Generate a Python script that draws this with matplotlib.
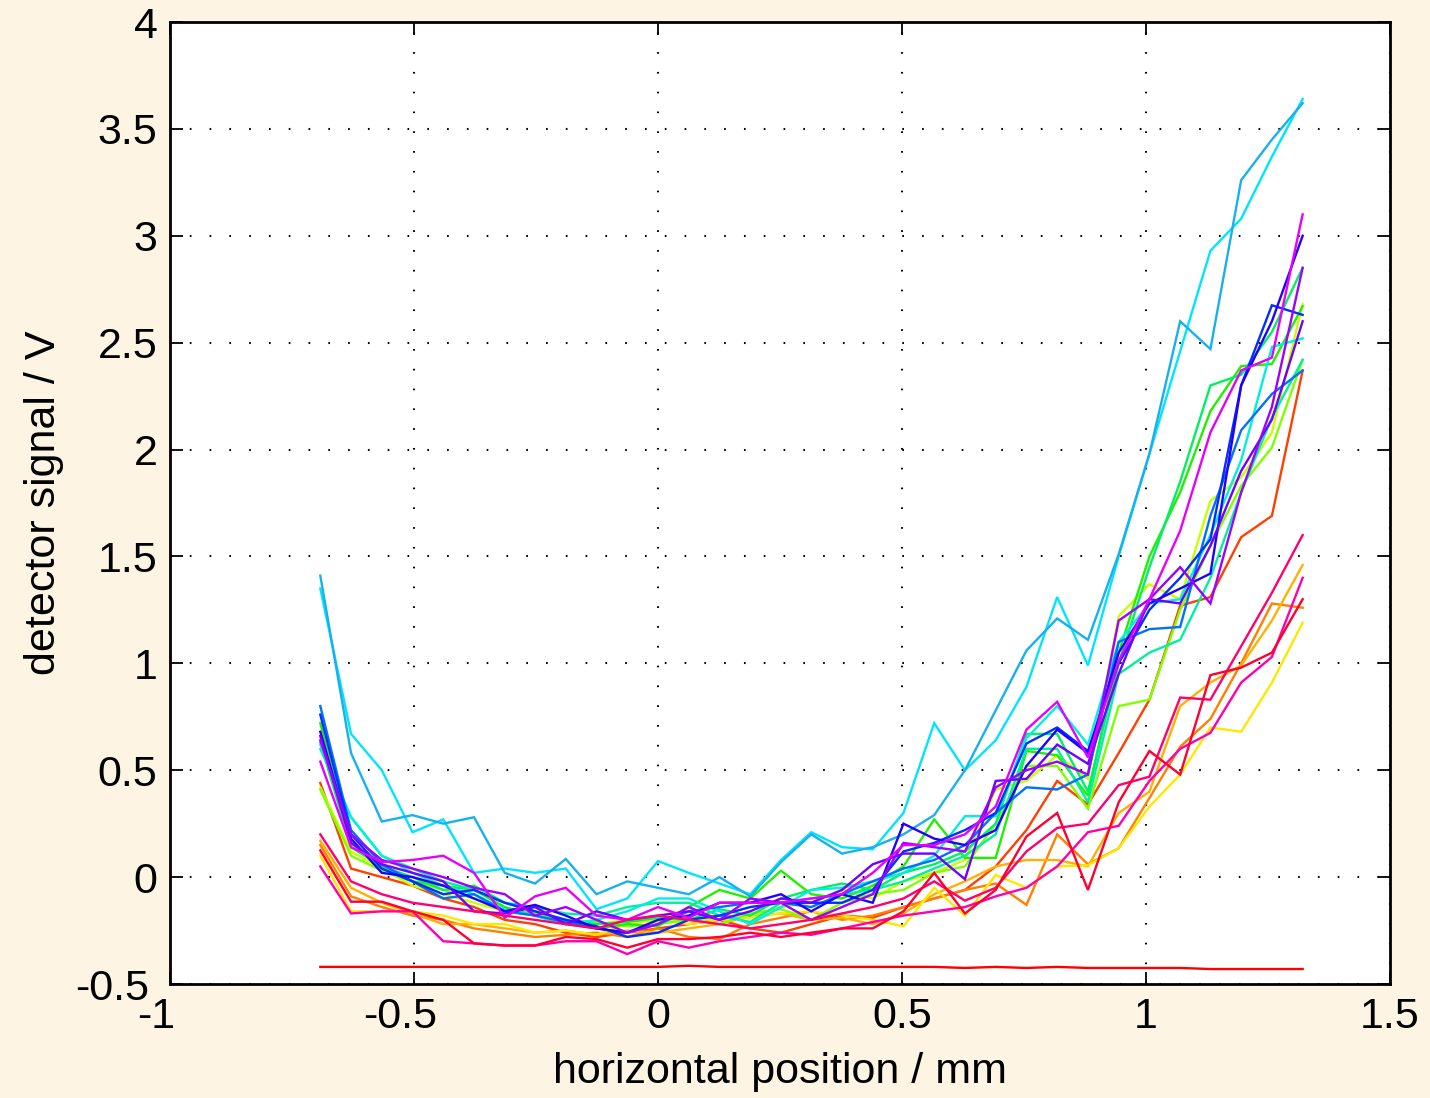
import matplotlib
matplotlib.use("Agg")
import matplotlib.pyplot as plt
import matplotlib.transforms as mtransforms

# ---------------- data ----------------
x_pos = [-0.692, -0.629, -0.566, -0.503, -0.440, -0.377, -0.314, -0.252, -0.189, -0.126, -0.063,
         0.000, 0.063, 0.126, 0.189, 0.252, 0.314, 0.377, 0.440, 0.503, 0.566, 0.629,
         0.692, 0.755, 0.818, 0.881, 0.944, 1.007, 1.070, 1.132, 1.195, 1.258, 1.321]

red_flat = [-0.42, -0.42, -0.42, -0.42, -0.42, -0.42, -0.42, -0.42, -0.42, -0.42, -0.42,
            -0.42, -0.415, -0.42, -0.42, -0.42, -0.42, -0.42, -0.42, -0.42, -0.42, -0.425,
            -0.42, -0.425, -0.42, -0.425, -0.425, -0.425, -0.425, -0.43, -0.43, -0.43, -0.43]
orange_red = [0.44, 0.04, 0.00, -0.04, -0.10, -0.14, -0.20, -0.22, -0.26, -0.28, -0.26,
              -0.24, -0.22, -0.20, -0.24, -0.26, -0.22, -0.18, -0.19, -0.14, -0.10, -0.06,
              0.05, 0.22, 0.45, 0.34, 0.58, 0.83, 1.27, 1.31, 1.59, 1.69, 2.37]
orange = [0.15, -0.09, -0.14, -0.18, -0.20, -0.24, -0.26, -0.28, -0.27, -0.26, -0.28,
          -0.24, -0.28, -0.29, -0.22, -0.19, -0.16, -0.20, -0.18, -0.14, -0.10, -0.06,
          -0.03, -0.13, 0.20, 0.06, 0.135, 0.37, 0.61, 0.74, 1.00, 1.28, 1.26]
orange_yellow = [0.17, -0.05, -0.12, -0.17, -0.22, -0.22, -0.24, -0.26, -0.25, -0.27, -0.25,
                 -0.26, -0.24, -0.22, -0.18, -0.17, -0.20, -0.19, -0.22, -0.17, -0.08, -0.02,
                 0.05, 0.08, 0.08, 0.05, 0.30, 0.40, 0.80, 0.91, 0.99, 1.20, 1.46]
yellow = [0.10, -0.16, -0.16, -0.16, -0.18, -0.22, -0.22, -0.26, -0.25, -0.27, -0.22,
          -0.20, -0.22, -0.20, -0.19, -0.17, -0.16, -0.18, -0.20, -0.23, -0.05, -0.18,
          0.01, -0.05, 0.05, 0.055, 0.135, 0.33, 0.48, 0.70, 0.68, 0.91, 1.19]
yellow_green = [0.42, 0.12, 0.04, -0.04, -0.08, -0.12, -0.16, -0.18, -0.20, -0.22, -0.20,
                -0.21, -0.19, -0.20, -0.18, -0.14, -0.12, -0.06, -0.10, -0.02, 0.02, 0.08,
                0.41, 0.45, 0.57, 0.46, 1.22, 1.37, 1.30, 1.76, 1.87, 2.08, 2.68]
chartreuse = [0.41, 0.10, 0.03, -0.02, -0.06, -0.10, -0.15, -0.17, -0.20, -0.21, -0.23,
              -0.22, -0.20, -0.22, -0.17, -0.15, -0.20, -0.12, -0.08, -0.06, 0.02, 0.05,
              0.25, 0.52, 0.52, 0.32, 0.80, 0.83, 1.25, 1.55, 1.83, 2.01, 2.42]
green = [0.72, 0.16, 0.04, -0.02, -0.04, -0.06, -0.14, -0.18, -0.22, -0.24, -0.22,
         -0.23, -0.14, -0.06, -0.10, 0.03, -0.08, -0.10, -0.04, 0.05, 0.27, 0.09,
         0.09, 0.59, 0.57, 0.38, 1.05, 1.50, 1.80, 2.18, 2.39, 2.40, 2.67]
spring_green = [0.63, 0.14, 0.05, 0.00, -0.06, -0.04, -0.12, -0.16, -0.20, -0.22, -0.21,
                -0.19, -0.20, -0.15, -0.18, -0.10, -0.06, -0.03, -0.06, 0.02, 0.06, 0.12,
                0.25, 0.67, 0.67, 0.40, 1.00, 1.45, 1.85, 2.30, 2.35, 2.55, 2.85]
aquamarine = [0.60, 0.28, 0.10, 0.04, -0.02, -0.06, -0.12, -0.14, -0.17, -0.18, -0.14,
              -0.12, -0.12, -0.18, -0.21, -0.12, -0.10, -0.08, -0.06, -0.02, 0.04, 0.10,
              0.20, 0.60, 0.60, 0.35, 0.95, 1.05, 1.11, 1.40, 1.80, 2.15, 2.42]
turquoise = [0.62, 0.28, 0.10, 0.02, -0.04, -0.08, -0.15, -0.18, -0.22, -0.20, -0.16,
             -0.10, -0.10, -0.16, -0.22, -0.14, -0.06, -0.05, -0.02, 0.02, 0.10, 0.285,
             0.285, 0.65, 0.80, 0.62, 1.10, 1.28, 1.30, 1.60, 1.95, 2.48, 2.52]
light_cyan = [1.35, 0.67, 0.50, 0.21, 0.27, 0.02, 0.04, 0.02, 0.04, -0.15, -0.10,
              0.075, 0.02, -0.03, -0.08, 0.08, 0.21, 0.14, 0.13, 0.30, 0.72, 0.50,
              0.64, 0.89, 1.31, 0.99, 1.50, 1.98, 2.46, 2.93, 3.08, 3.37, 3.64]
sky_blue = [1.41, 0.58, 0.26, 0.29, 0.25, 0.28, 0.02, -0.03, 0.085, -0.08, -0.02,
            -0.05, -0.08, 0.00, -0.09, 0.07, 0.20, 0.11, 0.14, 0.20, 0.29, 0.50,
            0.78, 1.06, 1.21, 1.11, 1.51, 1.98, 2.60, 2.47, 3.26, 3.45, 3.62]
azure = [0.80, 0.22, 0.06, -0.02, -0.10, -0.08, -0.16, -0.18, -0.21, -0.24, -0.26,
         -0.22, -0.16, -0.14, -0.12, -0.12, -0.14, -0.08, -0.02, 0.04, 0.08, 0.15,
         0.30, 0.42, 0.41, 0.48, 1.10, 1.16, 1.17, 1.69, 2.09, 2.26, 2.37]
blue = [0.76, 0.20, 0.04, -0.02, -0.08, -0.06, -0.12, -0.16, -0.20, -0.23, -0.28,
        -0.26, -0.20, -0.18, -0.14, -0.12, -0.12, -0.12, -0.06, 0.12, 0.16, 0.22,
        0.30, 0.625, 0.70, 0.59, 1.00, 1.25, 1.40, 1.58, 2.30, 2.675, 2.63]
blue_violet = [0.68, 0.18, 0.02, 0.00, -0.04, -0.10, -0.16, -0.13, -0.18, -0.24, -0.26,
               -0.20, -0.18, -0.12, -0.12, -0.08, -0.16, -0.08, -0.12, 0.25, 0.18, 0.15,
               0.22, 0.52, 0.69, 0.58, 1.05, 1.28, 1.35, 1.42, 2.30, 2.60, 3.00]
violet = [0.66, 0.16, 0.06, 0.02, -0.02, -0.16, -0.17, -0.14, -0.22, -0.16, -0.20,
          -0.18, -0.16, -0.20, -0.16, -0.10, -0.12, -0.06, 0.06, 0.11, 0.11, -0.01,
          0.45, 0.46, 0.62, 0.53, 0.95, 1.30, 1.28, 1.55, 1.90, 2.14, 2.60]
purple = [0.64, 0.20, 0.08, 0.04, 0.00, -0.05, -0.08, -0.18, -0.14, -0.20, -0.26,
          -0.22, -0.14, -0.20, -0.10, -0.12, -0.20, -0.14, -0.08, 0.16, 0.14, 0.12,
          0.42, 0.50, 0.54, 0.48, 1.20, 1.30, 1.45, 1.28, 1.80, 2.20, 2.85]
magenta = [0.54, 0.14, 0.07, 0.08, 0.10, 0.02, -0.19, -0.09, -0.05, -0.18, -0.20,
           -0.14, -0.19, -0.12, -0.12, -0.12, -0.10, -0.08, 0.02, 0.15, 0.15, 0.20,
           0.33, 0.69, 0.82, 0.56, 1.01, 1.30, 1.62, 2.08, 2.37, 2.43, 3.10]
pink_magenta = [0.05, -0.17, -0.16, -0.16, -0.30, -0.31, -0.32, -0.32, -0.30, -0.30, -0.36,
                -0.30, -0.33, -0.30, -0.28, -0.26, -0.27, -0.24, -0.21, -0.18, -0.16, -0.14,
                -0.09, -0.05, 0.05, 0.21, 0.24, 0.45, 0.60, 0.675, 0.91, 1.03, 1.40]
pink_red = [0.20, -0.02, -0.08, -0.12, -0.14, -0.16, -0.18, -0.20, -0.22, -0.24, -0.20,
            -0.18, -0.20, -0.22, -0.24, -0.22, -0.20, -0.17, -0.14, -0.10, -0.02, -0.11,
            -0.05, 0.12, 0.23, 0.25, 0.43, 0.47, 0.84, 0.83, 1.08, 1.33, 1.60]
crimson = [0.125, -0.115, -0.115, -0.16, -0.20, -0.31, -0.32, -0.32, -0.28, -0.29, -0.33,
           -0.29, -0.29, -0.28, -0.26, -0.28, -0.26, -0.24, -0.24, -0.16, 0.02, -0.17,
           -0.06, 0.19, 0.30, -0.06, 0.35, 0.59, 0.48, 0.945, 0.98, 1.05, 1.30]

series = [red_flat, orange_red, orange, orange_yellow, yellow, yellow_green, chartreuse,
          green, spring_green, aquamarine, turquoise, light_cyan, sky_blue, azure, blue,
          blue_violet, violet, purple, magenta, pink_magenta, pink_red, crimson]

x_ticks = [-1, -0.5, 0, 0.5, 1, 1.5]
x_tick_labels = ["-1", "-0.5", "0", "0.5", "1", "1.5"]
y_ticks = [-0.5, 0, 0.5, 1, 1.5, 2, 2.5, 3, 3.5, 4]
y_tick_labels = ["-0.5", "0", "0.5", "1", "1.5", "2", "2.5", "3", "3.5", "4"]
x_label = "horizontal position / mm"
y_label = "detector signal / V"

# ---------------- style ----------------
colors = ['#FF0000', '#FF4000', '#FF8000', '#FFB000', '#FFE800', '#C8FF00', '#80FF00',
          '#20F000', '#00F060', '#00F0A0', '#00F0E0', '#00E5FF', '#18B0EE', '#0070FF',
          '#0030FF', '#2000FF', '#7000FF', '#A000FF', '#E800FF', '#FF00B0', '#FF0070',
          '#FF0030']

plt.rcParams['font.family'] = ['Liberation Sans', 'DejaVu Sans']
plt.rcParams['axes.unicode_minus'] = False

bg = '#FDF4E3'
fig = plt.figure(figsize=(14.3, 10.98), dpi=100, facecolor=bg)
ax = fig.add_axes([170 / 1430, 1 - 984 / 1098, 1220 / 1430, 962 / 1098])
ax.set_facecolor('white')

for ys, c in zip(series, colors):
    ax.plot(x_pos, ys, color=c, linewidth=1.7, solid_joinstyle='miter', zorder=3)

ax.set_xlim(-1, 1.5)
ax.set_ylim(-0.5, 4)
ax.set_xticks(x_ticks, x_tick_labels)
ax.set_yticks(y_ticks, y_tick_labels)
ax.grid(True, color='black', linestyle=(0, (0.8, 8.7)), linewidth=1.5, zorder=1)
ax.set_axisbelow(True)

for s in ax.spines.values():
    s.set_linewidth(2.0)
ax.tick_params(direction='in', length=9, width=1.3, labelsize=31,
               top=True, right=True, pad=9)
ax.set_xlabel(x_label, fontsize=31, labelpad=11)
ax.set_ylabel(y_label, fontsize=31, labelpad=8)

# MATLAB-like placement of negative tick labels (shifted left)
for lab in ax.get_xticklabels():
    if lab.get_text().startswith('-'):
        lab.set_transform(lab.get_transform() +
                          mtransforms.ScaledTranslation(-14 / 100, 0, fig.dpi_scale_trans))
for lab in ax.get_yticklabels():
    if lab.get_text().startswith('-'):
        lab.set_transform(lab.get_transform() +
                          mtransforms.ScaledTranslation(-8 / 100, 0, fig.dpi_scale_trans))

fig.savefig('out.png', dpi=100, facecolor=bg)
